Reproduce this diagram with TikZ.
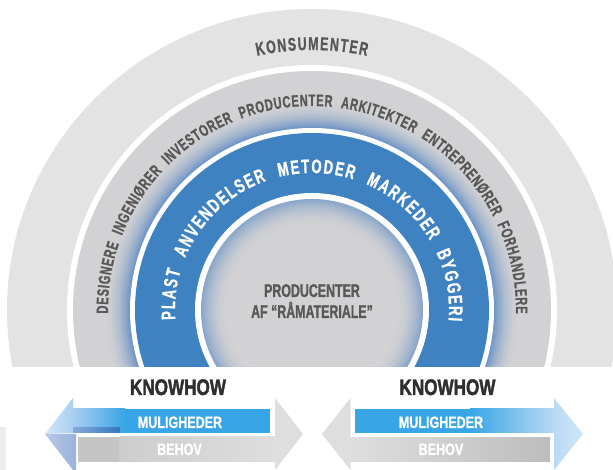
\documentclass[tikz,border=0pt]{standalone}
\usepackage{fontspec}
\setmainfont{Liberation Sans}
\newfontfamily\cf{Liberation Sans Bold}[FakeStretch=0.67,FakeBold=1.0]
\newfontfamily\cfw{Liberation Sans Bold}[FakeStretch=0.76,FakeBold=0.8]
\newfontfamily\cfk{Liberation Sans Bold}[FakeStretch=0.76,FakeBold=1.8]
\usetikzlibrary{decorations.text,calc}
\definecolor{outergray}{HTML}{E3E3E3}
\definecolor{midgray}{HTML}{D2D2D4}
\definecolor{bandblue}{HTML}{3E82C1}
\definecolor{glowblue}{HTML}{3E78C0}
\definecolor{txtgray}{HTML}{585858}
\definecolor{darktxt}{HTML}{2E2E2E}
\definecolor{barblue}{HTML}{38A6E6}
\definecolor{lightblueA}{HTML}{D3E6F9}
\definecolor{lightblueB}{HTML}{A8CFF2}
\definecolor{foldA}{HTML}{BAC8E6}
\definecolor{foldB}{HTML}{9AB2DC}
\definecolor{stripA}{HTML}{86A9DA}
\definecolor{stripB}{HTML}{3576C0}
\definecolor{grayA}{HTML}{C5C5C5}
\definecolor{grayB}{HTML}{CDCDCD}
\definecolor{grayC}{HTML}{DEDEDE}
\definecolor{grayD}{HTML}{BDBDBD}
\definecolor{tipblue}{HTML}{B9DAF5}
\definecolor{tipblueB}{HTML}{D0E6F9}
\tikzset{
  arctext/.style n args={2}{decorate,decoration={text along path,
     text align={fit to path}, text color=#1, text={#2}}},
  bigword/.style={font=\cfk\fontsize{22.5}{22.5}\selectfont, text=darktxt, anchor=base, inner sep=0pt},
  barword/.style={font=\cfw\fontsize{16.5}{16.5}\selectfont, text=white, anchor=base, inner sep=0pt},
  centerword/.style={font=\cf\fontsize{18.5}{18.5}\selectfont, text=txtgray, anchor=base, inner sep=0pt}
}
\begin{document}
\begin{tikzpicture}[x=1pt,y=1pt]
\useasboundingbox (0,0) rectangle (613,470);
\coordinate (C) at (312,160);
\begin{scope}
\clip (0,103) rectangle (613,470);
\fill[outergray] (C) ellipse[x radius=305, y radius=301];
\fill[white] (C) circle[radius=245];
\fill[midgray] (C) circle[radius=239];
\foreach \i in {0,...,28}{
  \pgfmathsetmacro\rr{210-\i}
  \pgfmathtruncatemacro\pp{72*(\i/28)^2}
  \fill[glowblue!\pp!midgray] (C) circle[radius=\rr];
}
\fill[white] (C) circle[radius=182];
\fill[bandblue] (C) circle[radius=177];
\fill[white] (C) circle[radius=117];
\foreach \i in {0,...,28}{
  \pgfmathsetmacro\rr{111-\i}
  \pgfmathtruncatemacro\pp{50*((28-\i)/28)^2}
  \fill[glowblue!\pp!midgray] (C) circle[radius=\rr];
}
\end{scope}
% arc texts
\path[arctext={txtgray}{|\cf\fontsize{18.5}{18.5}\selectfont|KONSUMENTER}]
  ($(C)+(102.2:260)$) arc[start angle=102.2, end angle=77.8, radius=260];
\path[arctext={txtgray}{|\cf\fontsize{16.5}{16.5}\selectfont|DESIGNERE{\kern7pt}INGENIØRER{\kern7pt}INVESTORER{\kern7pt}PRODUCENTER{\kern7pt}ARKITEKTER{\kern7pt}ENTREPRENØRER{\kern7pt}FORHANDLERE}]
  ($(C)+(181:204)$) arc[start angle=181, end angle=-1, radius=204];
\path[arctext={white}{|\cf\fontsize{19.5}{19.5}\selectfont|PLAST{\kern10pt}ANVENDELSER{\kern10pt}METODER{\kern10pt}MARKEDER{\kern10pt}BYGGERI}]
  ($(C)+(184:137)$) arc[start angle=184, end angle=-4.5, radius=137];
\node[centerword] (p1) at (312,173) {PRODUCENTER};
\node[centerword] (p2) at (312,152) {AF “RÅMATERIALE”};
% bottom left group
\fill[gray!15] (0,43) rectangle (6,0);
\shade[left color=foldA, right color=foldB] (45,36) -- (76,36) -- (76,0) -- (73,0) -- cycle;
\shade[left color=lightblueA, right color=lightblueB] (45,36) -- (73,72) -- (73,37) -- cycle;
\shade[left color=lightblueB, right color=barblue] (73,61) rectangle (125,37);
\fill[barblue] (124.5,61) rectangle (270,37);
\shade[left color=stripA, right color=stripB] (73,42) rectangle (120,37);
\fill[grayA] (78,33) rectangle (120,8);
\shade[left color=grayB, right color=grayC] (119.5,33) rectangle (275.5,8);
\fill[grayC] (275,72) -- (303,36) -- (275,0) -- cycle;
% bottom right group
\fill[grayC] (322,36) -- (350.5,72) -- (350.5,0) -- cycle;
\shade[left color=grayC, right color=grayD] (350,32) rectangle (550,8);
\fill[barblue] (355,61) rectangle (470.5,37);
\shade[left color=barblue, right color=tipblue] (470,61) rectangle (554.5,37);
\shade[left color=tipblue, right color=tipblueB] (554,72) -- (583,36) -- (554,0) -- cycle;
% labels
\node[bigword] (k1) at (178,75) {KNOWHOW};
\node[bigword] (k2) at (447.5,75) {KNOWHOW};
\node[barword] (m1) at (180,42) {MULIGHEDER};
\node[barword] (b1) at (179.5,15) {BEHOV};
\node[barword] (m2) at (441,42) {MULIGHEDER};
\node[barword] (b2) at (441,15) {BEHOV};
\end{tikzpicture}
\end{document}
